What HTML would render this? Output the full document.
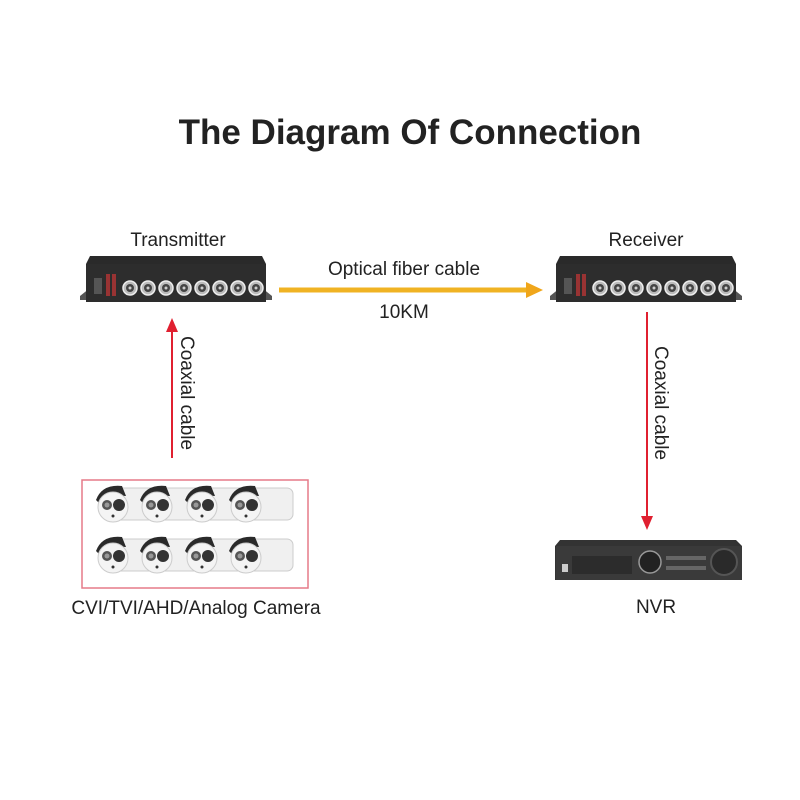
<!DOCTYPE html>
<html><head><meta charset="utf-8"><style>
html,body{margin:0;padding:0;background:#fff;width:800px;height:800px;overflow:hidden}
svg{display:block}
text{font-family:"Liberation Sans",Arial,sans-serif;fill:#222}
</style></head><body>
<svg width="800" height="800" viewBox="0 0 800 800" xmlns="http://www.w3.org/2000/svg">
<defs>
<g id="bnc"><circle r="7" fill="#bbb" stroke="#eee" stroke-width="1.5"/><circle r="4" fill="#444"/><circle r="1.5" fill="#ccc"/></g>
<g id="cam">
<rect x="10" y="4" width="56" height="32" rx="6" fill="#f0f0f0" stroke="#ccc"/>
<path d="M2,16 Q8,0 28,2 L32,12 Q14,10 10,24 Z" fill="#2a2a2a"/>
<circle cx="19" cy="23" r="15" fill="#f4f4f4" stroke="#ccc"/>
<circle cx="13" cy="21" r="5" fill="#555"/><circle cx="13" cy="21" r="2.5" fill="#999"/>
<circle cx="25" cy="21" r="6" fill="#333"/>
<circle cx="19" cy="32" r="1.5" fill="#333"/>
</g>
<g id="dev">
<polygon points="-6,40 4,32 4,44 -6,44" fill="#555"/>
<polygon points="186,40 176,32 176,44 186,44" fill="#555"/>
<polygon points="4,0 176,0 180,8 180,46 0,46 0,8" fill="#2a2a2a"/>
<rect x="0" y="8" width="180" height="38" fill="#2d2d2d"/>
<rect x="8" y="22" width="8" height="16" fill="#555"/>
<rect x="20" y="18" width="4" height="22" fill="#933"/><rect x="26" y="18" width="4" height="22" fill="#933"/>
<use href="#bnc" x="44" y="32"/><use href="#bnc" x="62" y="32"/><use href="#bnc" x="80" y="32"/><use href="#bnc" x="98" y="32"/>
<use href="#bnc" x="116" y="32"/><use href="#bnc" x="134" y="32"/><use href="#bnc" x="152" y="32"/><use href="#bnc" x="170" y="32"/>
</g>
</defs>

<text x="410" y="144" text-anchor="middle" font-size="35" font-weight="bold" fill="#333">The Diagram Of Connection</text>

<text x="178" y="246" text-anchor="middle" font-size="19">Transmitter</text>
<text x="646" y="246" text-anchor="middle" font-size="19">Receiver</text>
<text x="404" y="275" text-anchor="middle" font-size="19">Optical fiber cable</text>
<text x="404" y="318" text-anchor="middle" font-size="19">10KM</text>

<use href="#dev" x="86" y="256"/>
<use href="#dev" x="556" y="256"/>

<line x1="279" y1="290" x2="528" y2="290" stroke="#f0b323" stroke-width="5"/>
<polygon points="526,282 543,290 526,298" fill="#f0a61a"/>

<line x1="172" y1="458" x2="172" y2="330" stroke="#e02030" stroke-width="2"/>
<polygon points="166,332 172,318 178,332" fill="#e02030"/>
<text transform="translate(181,336) rotate(90)" font-size="19">Coaxial cable</text>

<line x1="647" y1="312" x2="647" y2="518" stroke="#e02030" stroke-width="2"/>
<polygon points="641,516 647,530 653,516" fill="#e02030"/>
<text transform="translate(655,346) rotate(90)" font-size="19">Coaxial cable</text>

<rect x="82" y="480" width="226" height="108" fill="#fff" stroke="#e57a88" stroke-width="1.5"/>
<use href="#cam" x="94" y="484"/><use href="#cam" x="138" y="484"/><use href="#cam" x="183" y="484"/><use href="#cam" x="227" y="484"/>
<use href="#cam" x="94" y="535"/><use href="#cam" x="138" y="535"/><use href="#cam" x="183" y="535"/><use href="#cam" x="227" y="535"/>
<text x="196" y="614" text-anchor="middle" font-size="19">CVI/TVI/AHD/Analog Camera</text>

<polygon points="560,540 736,540 742,546 742,580 555,580 555,546" fill="#333"/>
<rect x="556" y="546" width="186" height="34" fill="#3a3a3a"/>
<rect x="572" y="556" width="60" height="18" fill="#2c2c2c"/>
<rect x="562" y="564" width="6" height="8" fill="#ccc"/>
<circle cx="650" cy="562" r="11" fill="#222" stroke="#999" stroke-width="1.5"/>
<circle cx="724" cy="562" r="13" fill="#2a2a2a" stroke="#555" stroke-width="2"/>
<rect x="666" y="556" width="40" height="4" fill="#666"/><rect x="666" y="566" width="40" height="4" fill="#666"/>
<text x="656" y="613" text-anchor="middle" font-size="19">NVR</text>
</svg>
</body></html>
